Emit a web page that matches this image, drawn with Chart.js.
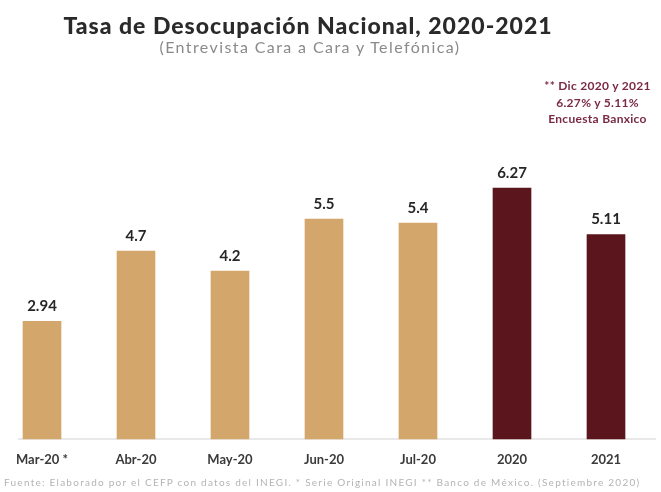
<!DOCTYPE html>
<html>
<head>
<meta charset="utf-8">
<script src="https://cdn.jsdelivr.net/npm/chart.js@4"></script>
<style>
  body { margin: 0; background: #fff; }
  #wrap { position: relative; width: 661px; height: 492px; overflow: hidden; font-family: Lato, sans-serif; }
  #chart { position: absolute; left: 0; top: 0; }
  .txt { position: absolute; white-space: nowrap; }
  #title { left: 0; width: 616px; top: 11px; text-align: center; font-size: 23px; font-weight: 900; letter-spacing: 1px; color: #2a2a2a; }
  #subtitle { left: 0; width: 620px; top: 37px; text-align: center; font-size: 16px; letter-spacing: 1.4px; color: #8a8a8a; }
  #note { left: 535px; width: 125px; top: 78px; text-align: center; font-size: 12px; font-weight: bold; letter-spacing: 0.3px; color: #7a2a45; line-height: 16.5px; }
  #footer { left: 4px; top: 476px; font-size: 10px; letter-spacing: 1.25px; color: #b4b4b4; }
</style>
</head>
<body>
<div id="wrap">
  <canvas id="chart" width="661" height="492"></canvas>
  <div class="txt" id="title">Tasa de Desocupación Nacional, 2020-2021</div>
  <div class="txt" id="subtitle">(Entrevista Cara a Cara y Telefónica)</div>
  <div class="txt" id="note">** Dic 2020 y 2021<br>6.27% y 5.11%<br>Encuesta Banxico</div>
  <div class="txt" id="footer">Fuente: Elaborado por el CEFP con datos del INEGI. * Serie Original INEGI ** Banco de México. (Septiembre 2020)</div>
</div>
<script>
var labels = ['Mar-20 *', 'Abr-20', 'May-20', 'Jun-20', 'Jul-20', '2020', '2021'];
var tasa = [2.94, 4.7, 4.2, 5.5, 5.4, 6.27, 5.11];
var colores = ['#D3A66C', '#D3A66C', '#D3A66C', '#D3A66C', '#D3A66C', '#5B161D', '#5B161D'];

// linea base gris bajo las barras
var baseLine = {
    id: 'baseLine',
    beforeDatasetsDraw: function (chart) {
        var ctx = chart.ctx, a = chart.chartArea;
        var y = chart.scales.y.getPixelForValue(0);
        ctx.save();
        ctx.strokeStyle = '#e2e2e2';
        ctx.lineWidth = 1.5;
        ctx.beginPath();
        ctx.moveTo(a.left - 24, y);
        ctx.lineTo(a.right + 50, y);
        ctx.stroke();
        ctx.restore();
    }
};

// etiquetas de valor encima de cada barra
var valueLabels = {
    id: 'valueLabels',
    afterDatasetsDraw: function (chart) {
        var ctx = chart.ctx;
        var meta = chart.getDatasetMeta(0);
        ctx.save();
        ctx.font = 'bold 15px Lato, sans-serif';
        ctx.fillStyle = '#262626';
        ctx.textAlign = 'center';
        ctx.textBaseline = 'middle';
        meta.data.forEach(function (bar, i) {
            ctx.fillText(String(tasa[i]), bar.x, bar.y - 15);
        });
        ctx.restore();
    }
};

new Chart(document.getElementById('chart'), {
    type: 'bar',
    data: {
        labels: labels,
        datasets: [{
            data: tasa,
            backgroundColor: colores,
            barThickness: 38,
            clip: false
        }]
    },
    options: {
        responsive: false,
        animation: false,
        layout: { padding: { left: 42, right: 55, top: 139, bottom: 0 } },
        plugins: { legend: { display: false }, tooltip: { enabled: false } },
        scales: {
            x: {
                offset: false,
                grid: { display: false },
                border: { display: false },
                ticks: { padding: 5, color: '#3a3a3a', font: { family: 'Lato', size: 13, weight: 'bold' }, maxRotation: 0 },
                afterFit: function (s) { s.height = 53; }
            },
            y: {
                display: false,
                min: 0,
                max: 7.5
            }
        }
    },
    plugins: [baseLine, valueLabels]
});
</script>
</body>
</html>
